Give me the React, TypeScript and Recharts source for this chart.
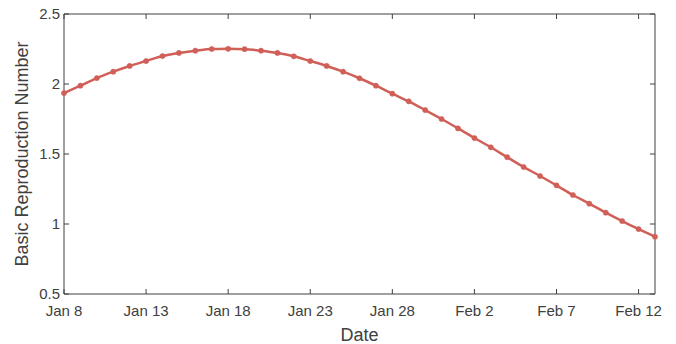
import React from "react";
import { LineChart, Line, XAxis, YAxis, Label } from "recharts";

const days: number[] = Array.from({ length: 37 }, (_, i) => i);
const r0Values: number[] = [
  1.935, 1.988, 2.042, 2.088, 2.129, 2.164, 2.2, 2.222, 2.238, 2.25,
  2.251, 2.249, 2.238, 2.222, 2.198, 2.164, 2.129, 2.088, 2.041, 1.988,
  1.931, 1.876, 1.814, 1.75, 1.683, 1.614, 1.548, 1.477, 1.407, 1.343,
  1.276, 1.207, 1.145, 1.081, 1.021, 0.964, 0.909,
];
const xTickDays: number[] = [0, 5, 10, 15, 20, 25, 30, 35];
const xTickLabels: string[] = ["Jan 8", "Jan 13", "Jan 18", "Jan 23", "Jan 28", "Feb 2", "Feb 7", "Feb 12"];
const yTicks: number[] = [0.5, 1, 1.5, 2, 2.5];

const data = days.map((d, i) => ({ day: d, r0: r0Values[i] }));

const AX = "#404040";
const LINE = "#d05f57";
const FONT = "'Liberation Sans', Arial, Helvetica, sans-serif";

export default function App() {
  const fmtX = (v: number) => {
    const idx = xTickDays.indexOf(v);
    return idx >= 0 ? xTickLabels[idx] : "";
  };
  const blank = () => "";
  return (
    <div style={{ position: "absolute", left: 0, top: 0, background: "#fff" }}>
      <LineChart
        width={676}
        height={344}
        data={data}
        margin={{ top: 13, right: 20, bottom: 0, left: 0 }}
        style={{ fontFamily: FONT }}
      >
        <XAxis
          xAxisId="b"
          dataKey="day"
          type="number"
          domain={[0, 36]}
          ticks={xTickDays}
          tickFormatter={fmtX}
          interval={0}
          height={50}
          stroke={AX}
          tickSize={-5}
          tickMargin={16}
          tick={{ fill: AX, fontSize: 15 }}
        >
          <Label value="Date" position="insideBottom" offset={3} fill={AX} fontSize={18} />
        </XAxis>
        <XAxis
          xAxisId="t"
          orientation="top"
          dataKey="day"
          type="number"
          domain={[0, 36]}
          ticks={xTickDays}
          interval={0}
          tickFormatter={blank}
          tick={{ fontSize: 1, fill: "none" }}
          tickLine={{ stroke: AX }}
          tickSize={-5}
          height={1}
          stroke={AX}
        />
        <YAxis
          yAxisId="l"
          type="number"
          domain={[0.5, 2.5]}
          ticks={yTicks}
          interval={0}
          width={64}
          stroke={AX}
          tickSize={-5}
          tickMargin={9}
          tick={{ fill: AX, fontSize: 15 }}
        >
          <Label value="Basic Reproduction Number" angle={-90} position="insideLeft" offset={22} fill={AX} fontSize={18} style={{ textAnchor: "middle" }} />
        </YAxis>
        <YAxis
          yAxisId="r"
          orientation="right"
          type="number"
          domain={[0.5, 2.5]}
          ticks={yTicks}
          interval={0}
          tickFormatter={blank}
          tick={{ fontSize: 1 }}
          tickSize={-5}
          width={1}
          stroke={AX}
        />
        <Line
          xAxisId="t"
          yAxisId="r"
          dataKey="r0"
          stroke="none"
          dot={false}
          activeDot={false}
          legendType="none"
          isAnimationActive={false}
        />
        <Line
          xAxisId="b"
          yAxisId="l"
          dataKey="r0"
          type="monotone"
          stroke={LINE}
          strokeWidth={2.5}
          dot={{ r: 2.6, fill: LINE, stroke: LINE, strokeWidth: 0.5 }}
          isAnimationActive={false}
        />
      </LineChart>
    </div>
  );
}
